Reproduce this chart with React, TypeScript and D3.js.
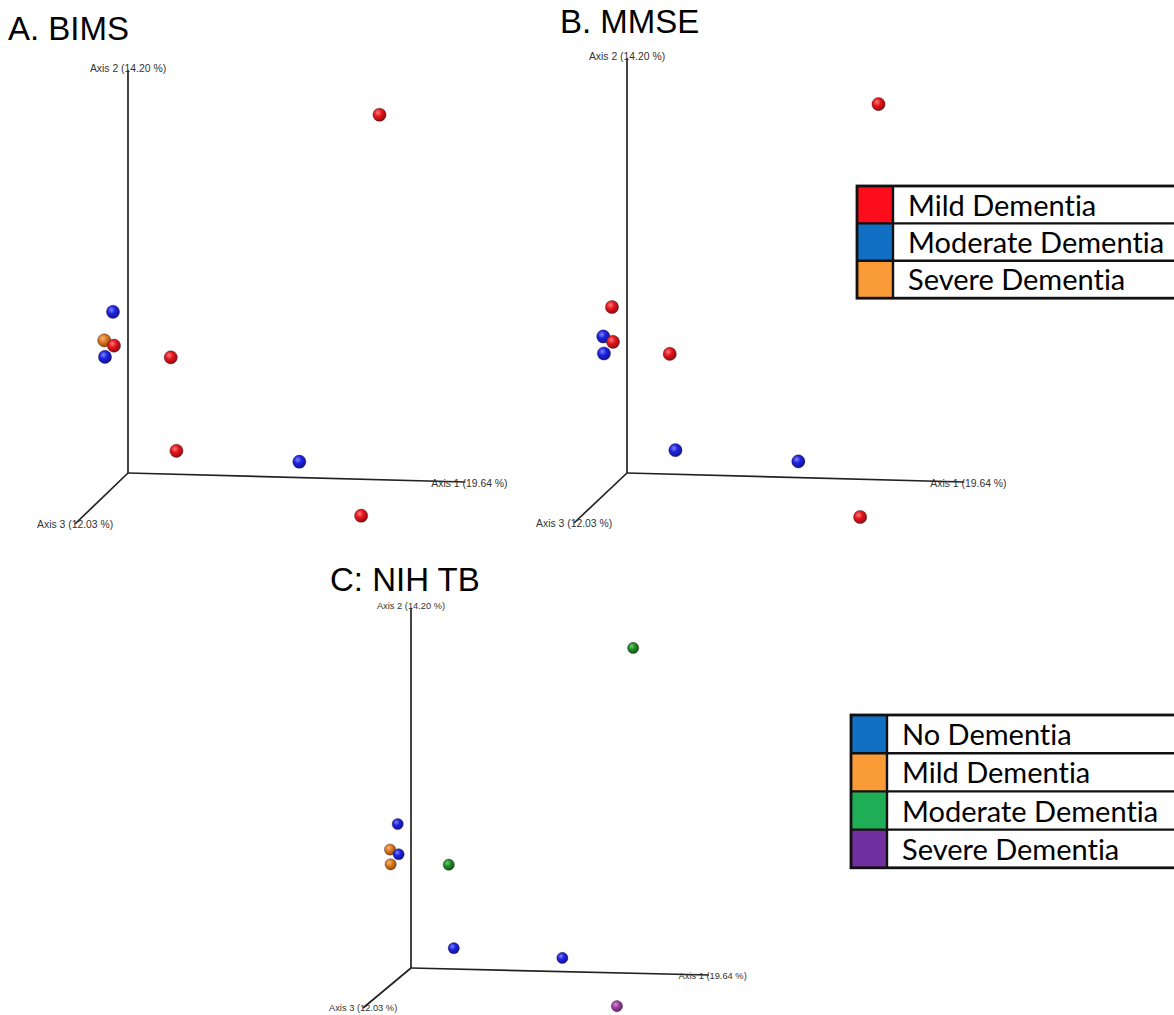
import React from 'react';
import * as d3 from 'd3';

// PCoA coordinates of the 9 samples (projected, axis-1 / axis-2 units)
const pcoaX = [0.753, -0.045, -0.071, -0.042, -0.069, 0.128, 0.145, 0.513, 0.698];
const pcoaY = [0.889, 0.400, 0.329, 0.316, 0.288, 0.287, 0.055, 0.028, -0.106];

// group of each sample for the three cognitive scores
const bimsGroup = ['Mild', 'Moderate', 'Severe', 'Mild', 'Moderate', 'Mild', 'Mild', 'Moderate', 'Mild'];
const mmseGroup = ['Mild', 'Mild', 'Moderate', 'Mild', 'Moderate', 'Mild', 'Moderate', 'Moderate', 'Mild'];
const nihGroup = ['Moderate', 'No', 'Mild', 'No', 'Mild', 'Moderate', 'No', 'No', 'Severe'];

const axisLabels = ['Axis 1 (19.64 %)', 'Axis 2 (14.20 %)', 'Axis 3 (12.03 %)'];

const legendB = ['Mild Dementia', 'Moderate Dementia', 'Severe Dementia'];
const legendC = ['No Dementia', 'Mild Dementia', 'Moderate Dementia', 'Severe Dementia'];

const sphereAB: Record<string, string> = { Mild: '#e8141c', Moderate: '#1c22e6', Severe: '#e07a1f' };
const sphereC: Record<string, string> = { No: '#1c22e6', Mild: '#e07a1f', Moderate: '#1e8f22', Severe: '#a23ca6' };
const swatchB = ['#fc0d1b', '#1170c4', '#f99b36'];
const swatchC = ['#1170c4', '#f99b36', '#1fad55', '#7030a0'];

const panels = [
  { id: 'a', title: 'A. BIMS', tx: 8, ty: 40, ox: 128, oy: 473, kx: 334, ky: 403, tilt: 9, ax3: [-53, 51], font: 10.4, r: 6.6, groups: bimsGroup, colors: sphereAB },
  { id: 'b', title: 'B. MMSE', tx: 560, ty: 33, ox: 627, oy: 473, kx: 334, ky: 415, tilt: 9, ax3: [-53, 50], font: 10.4, r: 6.6, groups: mmseGroup, colors: sphereAB },
  { id: 'c', title: 'C: NIH TB', tx: 330, ty: 591, ox: 411, oy: 968, kx: 295, ky: 360, tilt: 7, ax3: [-48, 40], font: 9.3, r: 5.6, groups: nihGroup, colors: sphereC },
];

const gradId = (c: string) => 'g' + c.replace('#', '');

function Panel({ p }: { p: typeof panels[number] }) {
  const x = d3.scaleLinear().domain([0, 1]).range([p.ox, p.ox + p.kx]);
  const y = d3.scaleLinear().domain([0, 1]).range([p.oy, p.oy - p.ky]);
  const top = y(1);
  const end1 = [x(1.01), p.oy + p.tilt];
  const end3 = [p.ox + p.ax3[0], p.oy + p.ax3[1]];
  const s = p.font / 10.4;
  const lab = { fontFamily: '"Liberation Sans", Arial, sans-serif', fontSize: p.font, fill: '#333' };
  return (
    <g>
      <text x={p.tx} y={p.ty} fontFamily='"Liberation Sans", Arial, sans-serif' fontSize={33} fill="#000">{p.title}</text>
      <g stroke="#222" strokeWidth={1.7} fill="none">
        <line x1={p.ox} y1={p.oy} x2={p.ox} y2={top} />
        <line x1={p.ox} y1={p.oy} x2={end1[0]} y2={end1[1]} />
        <line x1={p.ox} y1={p.oy} x2={end3[0]} y2={end3[1]} />
      </g>
      <text x={p.ox} y={top - 2} textAnchor="middle" dominantBaseline="central" {...lab}>{axisLabels[1]}</text>
      <text x={end1[0] - 34 * s} y={end1[1] + 1} dominantBaseline="central" {...lab}>{axisLabels[0]}</text>
      <text x={end3[0] - 38 * s} y={end3[1]} dominantBaseline="central" {...lab}>{axisLabels[2]}</text>
      {pcoaX.map((v, i) => {
        const c = p.colors[p.groups[i]];
        return (
          <circle key={i} cx={x(v)} cy={y(pcoaY[i])} r={p.r}
            fill={`url(#${gradId(c)})`} stroke="rgba(40,20,20,0.55)" strokeWidth={0.7} />
        );
      })}
    </g>
  );
}

function Legend({ x0, y0, rowH, swW, textX, labels, colors }:
  { x0: number; y0: number; rowH: number; swW: number; textX: number; labels: string[]; colors: string[] }) {
  const yb = d3.scaleBand().domain(labels).range([y0, y0 + rowH * labels.length]);
  const right = 1180;
  return (
    <g>
      {labels.map((l, i) => (
        <g key={l}>
          <rect x={x0} y={yb(l)} width={swW} height={yb.bandwidth()} fill={colors[i]} />
          <text x={textX} y={(yb(l) as number) + rowH * 0.79} fontFamily="Lato, 'Open Sans', sans-serif"
            fontSize={29} fill="#000" style={{ fontVariantLigatures: 'none' }}>{l}</text>
        </g>
      ))}
      {labels.slice(1).map(l => (
        <line key={l} x1={x0} x2={right} y1={yb(l)} y2={yb(l)} stroke="#111" strokeWidth={2.4} />
      ))}
      <line x1={x0 + swW} x2={x0 + swW} y1={y0} y2={y0 + rowH * labels.length} stroke="#111" strokeWidth={2.4} />
      <rect x={x0} y={y0} width={right - x0} height={rowH * labels.length} fill="none" stroke="#111" strokeWidth={2.8} />
    </g>
  );
}

export default function App() {
  const allColors = Array.from(new Set([...Object.values(sphereAB), ...Object.values(sphereC)]));
  return (
    <svg width={1174} height={1015} style={{ position: 'absolute', left: 0, top: 0, background: '#fff' }}>
      <defs>
        {allColors.map(c => (
          <radialGradient key={c} id={gradId(c)} cx="38%" cy="35%" r="65%">
            <stop offset="0%" stopColor={d3.interpolateRgb(c, '#fff')(0.45)} />
            <stop offset="45%" stopColor={c} />
            <stop offset="100%" stopColor={d3.color(c)!.darker(1.3).toString()} />
          </radialGradient>
        ))}
      </defs>
      <rect width={1174} height={1015} fill="#fff" />
      {panels.map(p => <Panel key={p.id} p={p} />)}
      <Legend x0={857} y0={186} rowH={37.4} swW={36} textX={908} labels={legendB} colors={swatchB} />
      <Legend x0={851} y0={715} rowH={38.2} swW={36} textX={902} labels={legendC} colors={swatchC} />
    </svg>
  );
}
